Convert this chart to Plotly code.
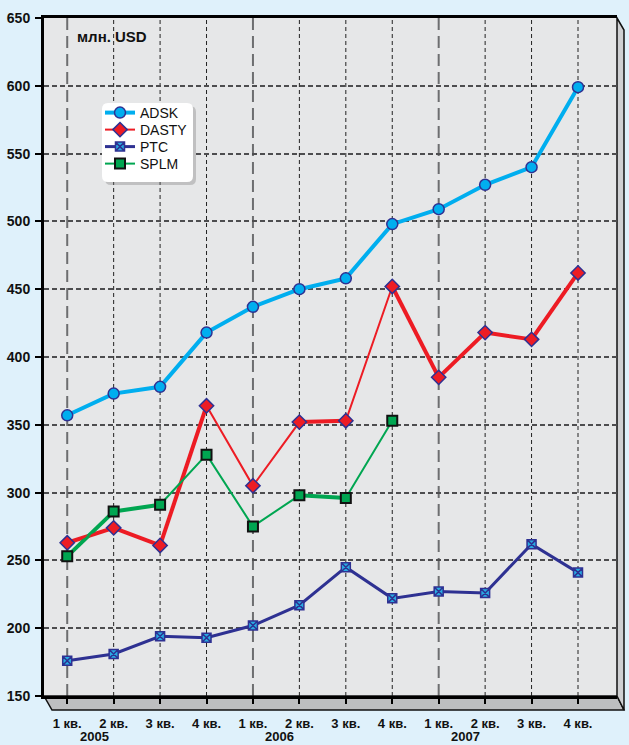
import plotly.graph_objects as go

# ---------------- data ----------------
quarters = ["1 кв.", "2 кв.", "3 кв.", "4 кв.",
            "1 кв.", "2 кв.", "3 кв.", "4 кв.",
            "1 кв.", "2 кв.", "3 кв.", "4 кв."]
years = ["2005", "2006", "2007"]
adsk = [357, 373, 378, 418, 437, 450, 458, 498, 509, 527, 540, 599]
dasty = [263, 274, 261, 364, 305, 352, 353, 452, 385, 418, 413, 462]
ptc = [176, 181, 194, 193, 202, 217, 245, 222, 227, 226, 262, 241]
splm = [253, 286, 291, 328, 275, 298, 296, 353]
y_ticks = [150, 200, 250, 300, 350, 400, 450, 500, 550, 600, 650]
unit_label = "млн. USD"

# ---------------- styles ----------------
THICK, THIN = 4, 2
dasty_seg = [THICK, THICK, THICK, THIN, THIN, THICK, THIN, THICK, THICK, THICK, THICK]
splm_seg = [THICK, THICK, THIN, THIN, THIN, THICK, THIN]

BG = "#DFF1FB"
PLOT_BG = "#E6E7E8"
NAVY = "#2E3192"
XFONT = dict(family="Liberation Sans, Arial, sans-serif", size=13, color="#111111")
YFONT = dict(family="Liberation Sans, Arial, sans-serif", size=14, color="#111111")

xs = list(range(len(quarters)))
fig = go.Figure()


def thick_segments(y, widths, color):
    sx, sy = [], []
    for i, w in enumerate(widths):
        if w == THICK:
            sx += [xs[i], xs[i + 1], None]
            sy += [y[i], y[i + 1], None]
    fig.add_trace(go.Scatter(x=sx, y=sy, mode="lines", showlegend=False, hoverinfo="skip",
                             line=dict(color=color, width=THICK)))


thick_segments(dasty, dasty_seg, "#ED1C24")
thick_segments(splm, splm_seg, "#00A651")

fig.add_trace(go.Scatter(x=xs, y=adsk, name="ADSK", mode="lines+markers", legend="legend",
                         line=dict(color="#00AEEF", width=4),
                         marker=dict(symbol="circle", size=11, color="#00AEEF",
                                     line=dict(color=NAVY, width=1.5))))
fig.add_trace(go.Scatter(x=xs, y=dasty, name="DASTY", mode="lines+markers", legend="legend2",
                         line=dict(color="#ED1C24", width=THIN),
                         marker=dict(symbol="diamond", size=11, color="#ED1C24",
                                     line=dict(color=NAVY, width=1.5))))
fig.add_trace(go.Scatter(x=xs, y=ptc, name="PTC", mode="lines+markers", legend="legend3",
                         line=dict(color=NAVY, width=3),
                         marker=dict(symbol="square-x", size=9, color="#29ABE2",
                                     line=dict(color=NAVY, width=1.5))))
fig.add_trace(go.Scatter(x=xs[:len(splm)], y=splm, name="SPLM", mode="lines+markers",
                         legend="legend4",
                         line=dict(color="#00A651", width=THIN),
                         marker=dict(symbol="square", size=10, color="#00A651",
                                     line=dict(color="#111111", width=2))))

# ---------------- vertical grid lines (from categories) ----------------
shapes = []
for i, q in enumerate(quarters):
    year_start = q.startswith("1")
    shapes.append(dict(type="line", xref="x", yref="paper", x0=xs[i], x1=xs[i], y0=0, y1=1,
                       layer="between",
                       line=dict(color="#6D6E70" if year_start else "#222222",
                                 width=2 if year_start else 1,
                                 dash="12px,6px" if year_start else "4px,3px")))

# 3D floor and right wall
px_w, px_h = 573.0, 678.0
dx = 7 / px_w
dl = 8 / px_w
dy = 14 / px_h
shapes.append(dict(type="path", xref="paper", yref="paper", layer="below",
                   path=f"M 0,0 L 1,0 L {1+dx},{-dy} L {dl},{-dy} Z",
                   fillcolor="#BDBEC0", line=dict(color="#111111", width=1.5)))
shapes.append(dict(type="path", xref="paper", yref="paper", layer="below",
                   path=f"M 1,1 L {1+dx},{1-12/px_h} L {1+dx},{-dy} L 1,0 Z",
                   fillcolor="#CFD0D2", line=dict(color="#111111", width=1.5)))


def P(x, y):
    return f"{(x-44)/px_w},{(696-y)/px_h}"


def rrect(x0, y0, x1, y1, r):
    return (f"M {P(x0+r, y0)} L {P(x1-r, y0)} Q {P(x1, y0)} {P(x1, y0+r)} "
            f"L {P(x1, y1-r)} Q {P(x1, y1)} {P(x1-r, y1)} L {P(x0+r, y1)} "
            f"Q {P(x0, y1)} {P(x0, y1-r)} L {P(x0, y0+r)} Q {P(x0, y0)} {P(x0+r, y0)} Z")


shapes.append(dict(type="path", xref="paper", yref="paper", layer="above",
                   path=rrect(105, 106, 196, 185, 6), fillcolor="rgba(120,120,120,0.35)",
                   line=dict(width=0)))
shapes.append(dict(type="path", xref="paper", yref="paper", layer="above",
                   path=rrect(102, 103, 193, 182, 6), fillcolor="#FFFFFF",
                   line=dict(width=0)))

# ---------------- annotations ----------------
annotations = []
firsts = [i for i, q in enumerate(quarters) if q.startswith("1")]
for k, yr in enumerate(years):
    annotations.append(dict(x=xs[firsts[k]] + 0.58, xref="x", y=0, yref="paper", yshift=-40,
                            text=f"<b>{yr}</b>", showarrow=False, yanchor="middle",
                            font=XFONT))
annotations.append(dict(x=(75 - 44) / px_w, y=(696 - 36) / px_h, xref="paper", yref="paper",
                        xanchor="left", yanchor="middle", showarrow=False,
                        text=f"<b>{unit_label}</b>",
                        font=dict(family="Liberation Sans, Arial, sans-serif", size=15,
                                  color="#111111")))

legend_common = dict(xanchor="left", yanchor="middle", bgcolor="rgba(0,0,0,0)", borderwidth=0,
                     itemwidth=30,
                     font=dict(family="Liberation Sans, Arial, sans-serif", size=14,
                               color="#111111"))
leg_x = (100 - 44) / px_w
legends = {}
for k, name in enumerate(["legend", "legend2", "legend3", "legend4"]):
    legends[name] = dict(legend_common, x=leg_x, y=(696 - (113 + 17 * k)) / px_h)

fig.update_layout(
    width=629, height=745,
    margin=dict(l=44, r=12, t=18, b=49),
    paper_bgcolor=BG, plot_bgcolor=PLOT_BG,
    shapes=shapes, annotations=annotations,
    showlegend=True,
    **legends,
    xaxis=dict(range=[-0.5, 11.84], tickvals=xs, ticktext=[f"<b>{q}</b>" for q in quarters],
               showgrid=False, zeroline=False, showline=True, linecolor="#000000", linewidth=3,
               mirror=True, ticks="outside", ticklen=5, tickwidth=2, tickcolor="#000000",
               ticklabelstandoff=8, tickfont=XFONT, fixedrange=True, automargin=False),
    yaxis=dict(range=[150, 650], tickvals=y_ticks, ticktext=[f"<b>{v}</b>" for v in y_ticks],
               showgrid=True, gridcolor="#4D4D4F", gridwidth=1.5, griddash="5px,3px",
               zeroline=False, showline=True, linecolor="#000000", linewidth=3,
               ticks="outside", ticklen=6, tickwidth=2, tickcolor="#000000",
               ticklabelstandoff=2, tickfont=YFONT, fixedrange=True, automargin=False),
)

fig.write_html("out.html")
